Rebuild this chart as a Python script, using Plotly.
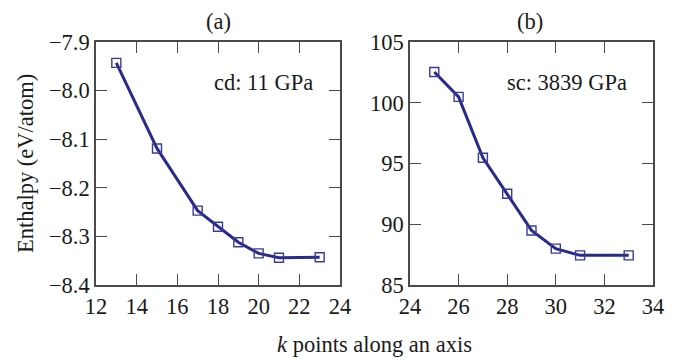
import plotly.graph_objects as go

# Data
k_a = [13, 15, 17, 18, 19, 20, 21, 23]
h_a = [-7.943, -8.119, -8.247, -8.280, -8.312, -8.335, -8.344, -8.343]
k_b = [25, 26, 27, 28, 29, 30, 31, 33]
h_b = [102.53, 100.48, 95.47, 92.51, 89.49, 87.99, 87.44, 87.44]

W, H = 693, 358
FONT = "Liberation Serif"
FS = 22.5
TXT = "#1a1a1a"
LINE = "#2a2a88"
MARK = "#3a3a9c"
AX = "#4a4a4a"

def px(x):
    return x / W

def py(y):
    return 1 - y / H

fig = go.Figure()
for xs, ys, xa, ya in [(k_a, h_a, "x", "y"), (k_b, h_b, "x2", "y2")]:
    fig.add_trace(go.Scatter(
        x=xs, y=ys, xaxis=xa, yaxis=ya, mode="lines",
        line=dict(color=LINE, width=3), showlegend=False, hoverinfo="skip"))
    fig.add_trace(go.Scatter(
        x=xs, y=ys, xaxis=xa, yaxis=ya, mode="markers",
        marker=dict(symbol="square-open", size=9, color=MARK, line=dict(width=1.4, color=MARK)),
        showlegend=False))

axis_common = dict(
    showline=True, linecolor=AX, linewidth=1.5, mirror="allticks",
    ticks="inside", ticklen=11, tickwidth=1.3, tickcolor=AX,
    showgrid=False, zeroline=False, automargin=False,
    tickfont=dict(family=FONT, size=FS, color=TXT),
)

y_dom = [py(285), py(42)]
fig.update_layout(
    template="none",
    width=W, height=H,
    margin=dict(l=0, r=0, t=0, b=0),
    paper_bgcolor="white", plot_bgcolor="white",
    font=dict(family=FONT, size=FS, color=TXT),
    xaxis=dict(domain=[px(96), px(340)], range=[12, 24], tick0=12, dtick=2, anchor="y", **axis_common),
    yaxis=dict(domain=y_dom, range=[-8.4, -7.9], tick0=-8.4, dtick=0.1, tickformat=".1f", anchor="x", **axis_common),
    xaxis2=dict(domain=[px(410), px(653)], range=[24, 34], tick0=24, dtick=2, anchor="y2", **axis_common),
    yaxis2=dict(domain=y_dom, range=[85, 105], tick0=85, dtick=5, anchor="x2", **axis_common),
)

anns = [
    dict(text="(a)", x=px(218), y=py(22)),
    dict(text="(b)", x=px(530), y=py(22)),
    dict(text="cd: 11 GPa", x=px(263), y=py(82)),
    dict(text="sc: 3839 GPa", x=px(567), y=py(82)),
    dict(text="<i>k</i> points along an axis", x=px(374), y=py(344)),
]
for a in anns:
    fig.add_annotation(xref="paper", yref="paper", showarrow=False,
                       xanchor="center", yanchor="middle",
                       font=dict(family=FONT, size=FS, color=TXT), **a)
fig.add_annotation(xref="paper", yref="paper", showarrow=False, textangle=-90,
                   text="Enthalpy (eV/atom)", x=px(25), y=py(164),
                   xanchor="center", yanchor="middle",
                   font=dict(family=FONT, size=FS, color=TXT))

fig.write_html("out.html", config={"displayModeBar": False},
               post_script="document.body.style.margin='0';")
